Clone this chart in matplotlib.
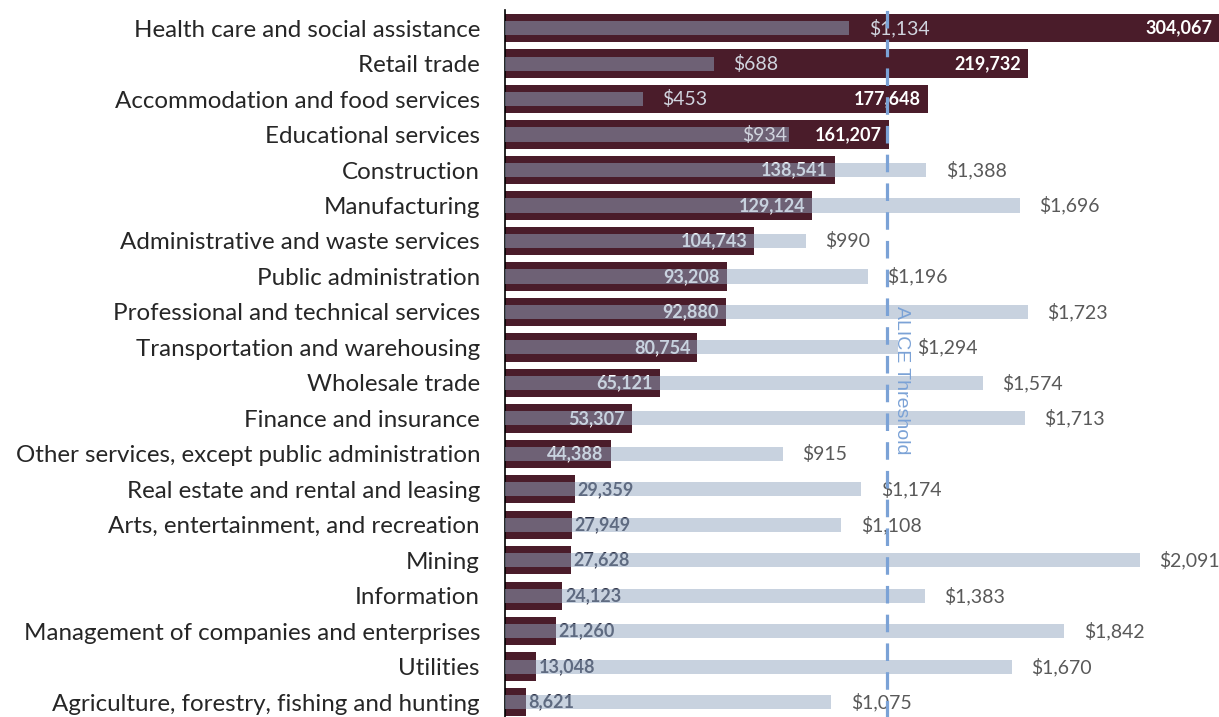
import matplotlib
matplotlib.use('Agg')
import matplotlib.pyplot as plt

maroon = '#4A1C2A'
steel = '#93A7C0'
dark = '#262626'
alice_blue = '#7BA2D6'

industries = [
    'Health care and social assistance', 'Retail trade',
    'Accommodation and food services', 'Educational services',
    'Construction', 'Manufacturing', 'Administrative and waste services',
    'Public administration', 'Professional and technical services',
    'Transportation and warehousing', 'Wholesale trade',
    'Finance and insurance', 'Other services, except public administration',
    'Real estate and rental and leasing', 'Arts, entertainment, and recreation',
    'Mining', 'Information', 'Management of companies and enterprises',
    'Utilities', 'Agriculture, forestry, fishing and hunting',
]
employment = [304067, 219732, 177648, 161207, 138541, 129124, 104743, 93208,
              92880, 80754, 65121, 53307, 44388, 29359, 27949, 27628, 24123,
              21260, 13048, 8621]
weekly_wage = [1134, 688, 453, 934, 1388, 1696, 990, 1196, 1723, 1294, 1574,
               1713, 915, 1174, 1108, 2091, 1383, 1842, 1670, 1075]
alice_threshold = 1259

emp_max = 300000
wage_max = 2352

plt.rcParams['font.family'] = ['Lato', 'DejaVu Sans']
fig = plt.figure(figsize=(12.19, 7.17), dpi=100)
ax = fig.add_axes([505 / 1219, -0.004, 714 / 1219, 0.9895])
pos = list(range(len(industries)))

# employment bars
ax.barh(pos, employment, height=0.8, color=maroon, zorder=1)
ax.set_xlim(0, emp_max)
ax.set_ylim(len(industries) - 0.5, -0.5)
ax.set_yticks(pos)
ax.set_yticklabels(industries, fontsize=17.4, color=dark)
ax.tick_params(axis='y', length=0, pad=18)
ax.set_xticks([])
for s in ['top', 'right', 'bottom']:
    ax.spines[s].set_visible(False)
ax.spines['left'].set_color('black')
ax.spines['left'].set_linewidth(1.2)
ax.spines['left'].set_zorder(6)

for i, v in enumerate(employment):
    end = min(v, emp_max)
    if v > 40000:
        ax.annotate(f'{v:,}', (end, i), xytext=(-5, 0), textcoords='offset points',
                    ha='right', va='center', fontsize=13, fontweight='bold',
                    color='white', zorder=2)
    else:
        ax.annotate(f'{v:,}', (end, i), xytext=(2, 0), textcoords='offset points',
                    ha='left', va='center', fontsize=13, fontweight='bold',
                    color='#2B2F43', zorder=2)

# wage bars on a second scale
ax2 = ax.twiny()
ax2.set_xlim(0, wage_max)
ax2.set_ylim(len(industries) - 0.5, -0.5)
ax2.barh(pos, weekly_wage, height=0.4, color=steel, alpha=0.5, zorder=3)
ax2.axis('off')

for i, w in enumerate(weekly_wage):
    emp_frac = min(employment[i], emp_max) / emp_max
    wage_frac = w / wage_max
    gap = emp_frac - wage_frac
    if 0 < gap < 0.17:
        # no room between the two labels, put it inside the bar end
        ax2.annotate(f'${w:,}', (w, i), xytext=(-1, 0), textcoords='offset points',
                     ha='right', va='center', fontsize=14, color='#D0D4DE', zorder=4)
    else:
        col = '#D0D4DE' if wage_frac + 0.09 < emp_frac else '#595959'
        ax2.annotate(f'${w:,}', (w, i), xytext=(14, 0), textcoords='offset points',
                     ha='left', va='center', fontsize=14, color=col, zorder=4)

ax2.axvline(alice_threshold, color=alice_blue, lw=2.3, dashes=(5.5, 3.5), zorder=5)
ax2.annotate('ALICE Threshold', (alice_threshold, 0.479),
             xycoords=('data', 'axes fraction'), xytext=(10, 0),
             textcoords='offset points', rotation=-90, ha='center', va='center',
             fontsize=14, color=alice_blue, family=['Liberation Sans', 'DejaVu Sans'],
             zorder=7)

fig.savefig('out.png', dpi=100)
